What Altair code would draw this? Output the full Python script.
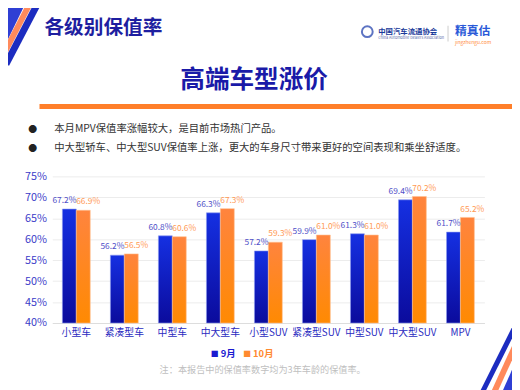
import altair as alt
import pandas as pd

categories = ["小型车", "紧凑型车", "中型车", "中大型车", "小型SUV", "紧凑型SUV", "中型SUV", "中大型SUV", "MPV"]
sep_values = [67.2, 56.2, 60.8, 66.3, 57.2, 59.9, 61.3, 69.4, 61.7]
oct_values = [66.9, 56.5, 60.6, 67.3, 59.3, 61.0, 61.0, 70.2, 65.2]
series_names = ["9月", "10月"]
y_ticks = [40, 45, 50, 55, 60, 65, 70, 75]

header_text = ["各级别保值率"]
title_text = ["高端车型涨价"]
bullet_texts = ["本月MPV保值率涨幅较大，是目前市场热门产品。",
                "中大型轿车、中大型SUV保值率上涨，更大的车身尺寸带来更好的空间表现和乘坐舒适度。"]
note_text = ["注：本报告中的保值率数字均为3年车龄的保值率。"]
org_cn = ["中国汽车流通协会"]
org_en = ["China Automobile Dealers Association"]
brand_cn = ["精真估"]
brand_en = ["jingzhengu.com"]

FONT = "Noto Sans CJK SC"
BLUE_LBL = "#5050c8"
ORANGE_LBL = "#ff9a55"

rows = []
for c, v in zip(categories, sep_values):
    rows.append({"cat": c, "series": series_names[0], "value": v})
for c, v in zip(categories, oct_values):
    rows.append({"cat": c, "series": series_names[1], "value": v})
df = pd.DataFrame(rows)
df["label"] = df["value"].map(lambda v: f"{v:.1f}%")

blue_grad = alt.Gradient(gradient="linear", x1=0, x2=0, y1=0, y2=1,
                         stops=[alt.GradientStop(color="#1530e2", offset=0),
                                alt.GradientStop(color="#0b0b9c", offset=1)])
orange_grad = alt.Gradient(gradient="linear", x1=0, x2=0, y1=0, y2=1,
                           stops=[alt.GradientStop(color="#ff843e", offset=0),
                                  alt.GradientStop(color="#ff8a02", offset=1)])

x_enc = alt.X("cat:N", sort=categories,
              scale=alt.Scale(paddingInner=0.42, paddingOuter=0.21),
              axis=alt.Axis(title=None, labelAngle=0, labelColor="#2a2ac0", labelFontSize=10,
                            labelFont=FONT, labelPadding=5, ticks=False, domainColor="#dcdcdc",
                            grid=False))
xo_enc = alt.XOffset("series:N", scale=alt.Scale(domain=series_names, paddingInner=0, paddingOuter=0))
y_enc = alt.Y("value:Q", scale=alt.Scale(domain=[40, 75], nice=False, zero=False),
              axis=alt.Axis(title=None, values=y_ticks, labelExpr="datum.value + '%'",
                            domain=False, ticks=False, labelPadding=6, gridColor="#ececec",
                            labelColor="#3a3ac8", labelFontSize=11, labelFont=FONT))

base = alt.Chart(df)
bars_sep = base.transform_filter(alt.datum.series == series_names[0]).mark_bar(
    color=blue_grad, stroke="#8f9cf0", strokeWidth=0.6).encode(
    x=x_enc, xOffset=xo_enc, y=y_enc, y2=alt.datum(40))
bars_oct = base.transform_filter(alt.datum.series == series_names[1]).mark_bar(
    color=orange_grad, stroke="#ffc090", strokeWidth=0.6).encode(
    x=x_enc, xOffset=xo_enc, y=y_enc, y2=alt.datum(40))
lbl_sep = base.transform_filter(alt.datum.series == series_names[0]).mark_text(
    baseline="bottom", dy=-4, dx=-5, fontSize=8.5, font=FONT, color=BLUE_LBL).encode(
    x=x_enc, xOffset=xo_enc, y=y_enc, text="label:N")
lbl_oct = base.transform_filter(alt.datum.series == series_names[1]).mark_text(
    baseline="bottom", dy=-4, dx=5, fontSize=8.5, font=FONT, color=ORANGE_LBL).encode(
    x=x_enc, xOffset=xo_enc, y=y_enc, text="label:N")


def txt(texts, x, y, size, color, bold=False, align="left"):
    return alt.Chart(pd.DataFrame({"t": texts})).mark_text(
        align=align, baseline="middle", fontSize=size, font=FONT, color=color,
        fontWeight="bold" if bold else "normal").encode(
        x=alt.value(x), y=alt.value(y), text="t:N")


def rule(x, y, x2, y2, color, w):
    return alt.Chart(pd.DataFrame({"a": [0]})).mark_rule(color=color, strokeWidth=w).encode(
        x=alt.value(x), y=alt.value(y), x2=alt.value(x2), y2=alt.value(y2))


# page coords -> plot coords: x - 53, y - 176
deco = [
    rule(14 - 53, -10 - 176, -16 - 53, 52 - 176, "#2f3fd4", 30),
    rule(33 - 53, -5 - 176, 2 - 53, 55 - 176, "#ff8a5c", 6),
    rule(41 - 53, -5 - 176, 6 - 53, 62 - 176, "#1c2cc0", 7),
    rule(40 - 53, 105 - 176, 530 - 53, 105 - 176, "#ff7f2a", 5),
    rule(455 - 53, 23 - 176, 455 - 53, 39 - 176, "#cccccc", 1),
    rule(525 - 53, 325 - 176, 490 - 53, 395 - 176, "#1c2cc0", 5),
    rule(528 - 53, 338 - 176, 502 - 53, 395 - 176, "#ff8a5c", 6),
    rule(534 - 53, 352 - 176, 515 - 53, 395 - 176, "#2f3fd4", 9),
    txt(header_text, 45 - 53, 25 - 176, 20, "#1e1ea0", bold=True),
    txt(org_cn, 384 - 53, 29 - 176, 7.5, "#1a3a9a", bold=True),
    txt(org_en, 384 - 53, 35 - 176, 3.8, "#5a6aa8"),
    txt(brand_cn, 462 - 53, 28 - 176, 12, "#2a5ad8", bold=True),
    txt(brand_en, 462 - 53, 40 - 176, 5, "#ff8c40"),
    txt(title_text, 258 - 53, 78 - 176, 25, "#1a1aa8", bold=True, align="center"),
    txt(["●"], 33 - 53, 128 - 176, 9, "#222222", align="center"),
    txt(["●"], 33 - 53, 147 - 176, 9, "#222222", align="center"),
    txt(bullet_texts[:1], 55 - 53, 128 - 176, 10.5, "#333333"),
    txt(bullet_texts[1:], 55 - 53, 147 - 176, 10.5, "#333333"),
    txt(note_text, 162 - 53, 373 - 176, 9.3, "#c0c0c0"),
    txt(["■"], 218 - 53, 357 - 176, 8, "#1a1ad0", align="center"),
    txt(series_names[:1], 224 - 53, 357 - 176, 9.5, "#1a1ad0", bold=True),
    txt(["■"], 251 - 53, 357 - 176, 8, "#ff8a30", align="center"),
    txt(series_names[1:], 257 - 53, 357 - 176, 9.5, "#ff8a30", bold=True),
]
logo = alt.Chart(pd.DataFrame({"a": [0]})).mark_point(
    shape="circle", filled=False, stroke="#1a3aaa", strokeWidth=2, size=120).encode(
    x=alt.value(373 - 53), y=alt.value(29 - 176))

chart = alt.layer(bars_sep, bars_oct, lbl_sep, lbl_oct, *deco, logo).properties(
    width=439, height=149,
    autosize=alt.AutoSizeParams(type="none"),
    padding={"left": 45, "top": 168, "right": 28, "bottom": 65},
    background="white",
).configure_view(stroke=None)

chart.save("out.html", embed_options={"renderer": "svg", "actions": False})
